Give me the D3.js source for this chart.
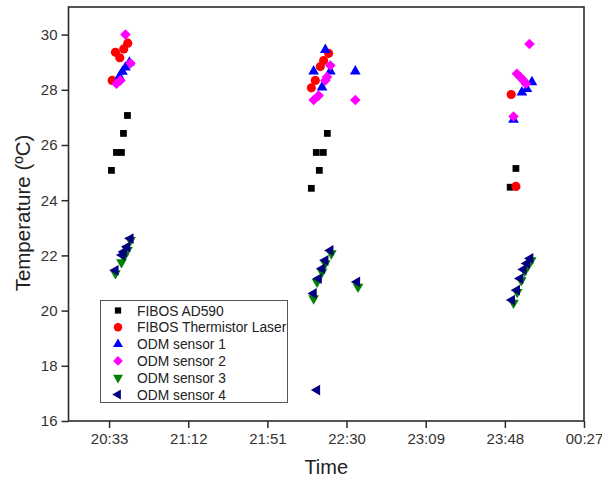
<!DOCTYPE html>
<html>
<head>
<meta charset="utf-8">
<script src="https://cdn.jsdelivr.net/npm/d3@7"></script>
<style>
  html, body { margin: 0; padding: 0; background: #fff; }
  svg { display: block; font-family: "Liberation Sans", Arial, sans-serif; }
</style>
</head>
<body>
<svg id="chart" width="602" height="483"></svg>
<script>
// ---------- data (time "HH:MM:SS", temperature °C) ----------
const seriesNames = ["FIBOS AD590", "FIBOS Thermistor Laser", "ODM sensor 1", "ODM sensor 2", "ODM sensor 3", "ODM sensor 4"];

const fibosAD590 = [
  ["20:34:10", 25.08], ["20:36:38", 25.73], ["20:39:06", 25.73], ["20:40:05", 26.42], ["20:42:03", 27.07],
  ["22:12:39", 24.43], ["22:16:35", 25.08], ["22:15:06", 25.73], ["22:18:34", 25.73], ["22:20:32", 26.42],
  ["23:50:38", 24.47], ["23:53:27", 25.15]
];
const fibosThermistor = [
  ["20:34:31", 28.34], ["20:36:08", 29.36], ["20:38:16", 29.16], ["20:40:14", 29.48], ["20:42:12", 29.69],
  ["22:12:39", 28.07], ["22:14:37", 28.34], ["22:17:05", 28.84], ["22:18:43", 29.06], ["22:21:10", 29.32],
  ["23:51:08", 27.83], ["23:53:27", 24.50]
];
const odmSensor1 = [
  ["20:38:07", 28.48], ["20:39:35", 28.66], ["20:41:04", 28.81], ["20:43:02", 28.99],
  ["22:13:47", 28.67], ["22:17:55", 28.09], ["22:19:33", 29.45], ["22:22:01", 28.67], ["22:34:19", 28.67],
  ["23:52:16", 26.92], ["23:56:24", 27.91], ["23:58:52", 28.03], ["00:01:20", 28.28]
];
const odmSensor2 = [
  ["20:41:04", 30.00], ["20:36:38", 28.22], ["20:38:36", 28.34], ["20:43:32", 28.96],
  ["22:13:47", 27.63], ["22:16:15", 27.79], ["22:19:33", 28.34], ["22:20:23", 28.46], ["22:22:01", 28.88], ["22:34:19", 27.63],
  ["00:00:08", 29.66], ["23:53:56", 28.58], ["23:55:34", 28.46], ["23:57:11", 28.34], ["23:58:22", 28.22], ["23:52:16", 27.03]
];
const odmSensor3 = [
  ["20:36:08", 21.35], ["20:39:06", 21.75], ["20:40:14", 21.94], ["20:42:03", 22.19], ["20:43:32", 22.55],
  ["22:13:47", 20.44], ["22:15:28", 21.04], ["22:17:55", 21.40], ["22:19:33", 21.71], ["22:22:30", 22.07], ["22:35:39", 20.86],
  ["23:52:16", 20.28], ["23:54:05", 20.67], ["23:56:04", 21.10], ["23:57:47", 21.43], ["23:59:30", 21.64], ["00:00:59", 21.82]
];
const odmSensor4 = [
  ["20:36:08", 21.46], ["20:39:26", 22.01], ["20:40:14", 22.13], ["20:41:54", 22.31], ["20:43:32", 22.61],
  ["22:13:47", 20.62], ["22:16:15", 21.16], ["22:17:55", 21.52], ["22:19:33", 21.82], ["22:22:01", 22.18], ["22:35:10", 21.04], ["22:15:28", 17.12],
  ["23:51:29", 20.38], ["23:53:56", 20.74], ["23:55:34", 21.16], ["23:57:11", 21.49], ["23:58:52", 21.71], ["00:00:29", 21.89]
];

const xTickLabels = ["20:33", "21:12", "21:51", "22:30", "23:09", "23:48", "00:27"];
const xDomainLabels = ["20:13", "00:27"];
const yTicks = [16, 18, 20, 22, 24, 26, 28, 30];
const yDomain = [16, 31];

// ---------- helpers ----------
const parseT = d3.timeParse("%H:%M:%S");
function toDate(s) {
  const full = s.length === 5 ? s + ":00" : s;
  const d = parseT(full);
  const base = new Date(2000, 0, 1, d.getHours(), d.getMinutes(), d.getSeconds());
  if (d.getHours() < 12) base.setDate(2); // after midnight
  return base;
}

// ---------- layout ----------
const svg = d3.select("#chart");
const L = 68.5, R = 584, T = 7, B = 421;

const x = d3.scaleTime().domain(xDomainLabels.map(toDate)).range([L, R]);
const y = d3.scaleLinear().domain(yDomain).range([B, T]);

const axisColor = "#2b2b2b";
const textColor = "#333";

// frame (top & right)
svg.append("rect").attr("x", L).attr("y", T).attr("width", R - L).attr("height", B - T)
  .attr("fill", "none").attr("stroke", axisColor).attr("stroke-width", 1.6);

// x axis
const xMajor = xTickLabels.map(toDate);
const xMinor = xMajor.slice(0, -1).map((d, i) => new Date((d.getTime() + xMajor[i + 1].getTime()) / 2));
const gx = svg.append("g").attr("transform", `translate(0,${B})`);
gx.call(d3.axisBottom(x).tickValues(xMinor).tickSize(4).tickFormat(""));
gx.call(d3.axisBottom(x).tickValues(xMajor).tickSize(7).tickPadding(5).tickFormat(d3.timeFormat("%H:%M")));
gx.select(".domain").remove();
gx.selectAll("line").attr("stroke", axisColor).attr("stroke-width", 1.5);
gx.selectAll("text").attr("font-size", 15).attr("fill", textColor).attr("font-family", "Liberation Sans, Arial, sans-serif");

// y axis
const yMinor = d3.range(17, 31, 2);
const gy = svg.append("g").attr("transform", `translate(${L},0)`);
gy.call(d3.axisLeft(y).tickValues(yMinor).tickSize(4).tickFormat(""));
gy.call(d3.axisLeft(y).tickValues(yTicks).tickSize(7).tickPadding(4).tickFormat(d3.format("d")));
gy.select(".domain").remove();
gy.selectAll("line").attr("stroke", axisColor).attr("stroke-width", 1.5);
gy.selectAll("text").attr("font-size", 15).attr("fill", textColor).attr("font-family", "Liberation Sans, Arial, sans-serif");

// titles
svg.append("text").attr("x", (L + R) / 2).attr("y", 474).attr("text-anchor", "middle")
  .attr("font-size", 20).attr("fill", "#222").text("Time");
svg.append("text").attr("transform", "translate(30,213) rotate(-90)").attr("text-anchor", "middle")
  .attr("font-size", 20.5).attr("fill", "#222").text("Temperature (ºC)");

// ---------- markers ----------
const styles = [
  { data: fibosAD590,     color: "#000000", type: d3.symbolSquare,   size: 46, rot: 0 },
  { data: fibosThermistor,color: "#ff0000", type: d3.symbolCircle,   size: 66, rot: 0 },
  { data: odmSensor1,     color: "#0000ff", type: d3.symbolTriangle, size: 50, rot: 0 },
  { data: odmSensor2,     color: "#ff00ff", type: d3.symbolSquare,   size: 56, rot: 45 },
  { data: odmSensor3,     color: "#008000", type: d3.symbolTriangle, size: 50, rot: 180 },
  { data: odmSensor4,     color: "#000080", type: d3.symbolTriangle, size: 50, rot: -90 }
];

styles.forEach(s => {
  const sym = d3.symbol().type(s.type).size(s.size);
  svg.append("g").selectAll("path").data(s.data).join("path")
    .attr("d", sym)
    .attr("fill", s.color)
    .attr("transform", d => `translate(${x(toDate(d[0]))},${y(d[1])}) rotate(${s.rot})`);
});

// ---------- legend ----------
const lg = svg.append("g");
lg.append("rect").attr("x", 100.5).attr("y", 300.5).attr("width", 187).attr("height", 102)
  .attr("fill", "#fff").attr("stroke", "#555").attr("stroke-width", 1);
seriesNames.forEach((name, i) => {
  const s = styles[i];
  const cy = 310.5 + i * 16.8;
  lg.append("path").attr("d", d3.symbol().type(s.type).size(s.size * 0.85)())
    .attr("fill", s.color).attr("transform", `translate(118,${cy}) rotate(${s.rot})`);
  lg.append("text").attr("x", 137).attr("y", cy + 5).attr("font-size", 13.8).attr("fill", "#222").text(name);
});
</script>
</body>
</html>
